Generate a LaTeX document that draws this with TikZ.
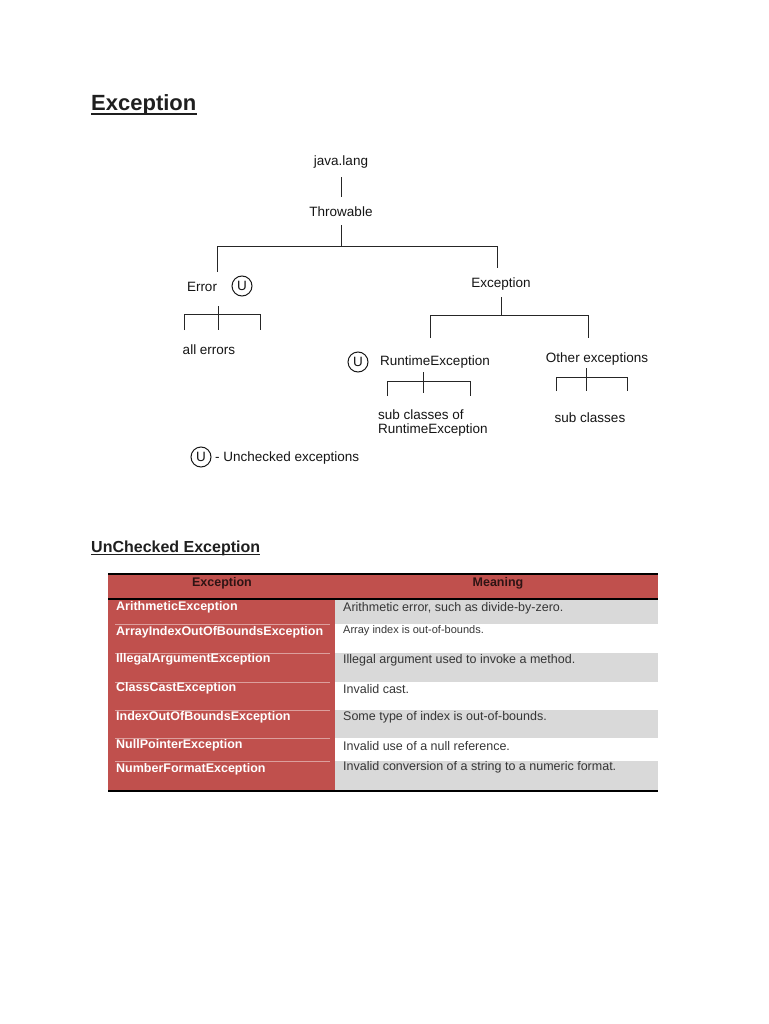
\documentclass[tikz,border=0pt]{standalone}
\usepackage{fontspec}
\setmainfont{Liberation Sans}
\usepackage{xcolor}
\usepackage{tikz}
\usetikzlibrary{positioning}
\definecolor{hdred}{HTML}{C0504D}
\definecolor{rowgray}{HTML}{D9D9D9}
\definecolor{txtgray}{HTML}{363636}
\definecolor{hdtext}{HTML}{2E1414}
\tikzset{
  tree/.style={inner sep=0pt,text=black!92,font=\fontsize{13.5}{14}\selectfont},
  ucirc/.style={circle,draw=black!90,line width=1pt,minimum size=20pt,inner sep=0pt,
    text=black!92,font=\fontsize{13.5}{14}\selectfont},
  link/.style={line width=1pt,black!85},
  heading/.style={anchor=base west,inner sep=0pt,text=black!88},
  hdtxt/.style={inner sep=0pt,text=hdtext,font=\fontsize{12.5}{14}\bfseries\selectfont},
  exname/.style={anchor=west,inner sep=0pt,text=white,font=\fontsize{12.5}{14}\bfseries\selectfont},
  meaning/.style={anchor=west,inner sep=0pt,text=txtgray,font=\fontsize{12.5}{14}\selectfont}
}

\begin{document}
\begin{tikzpicture}[x=1pt,y=-1pt]
  \useasboundingbox (0,0) rectangle (768,1024);
  % titres
  \node[heading,font=\fontsize{22}{26}\bfseries\selectfont] (title) at (91,111) {Exception};
  \draw[line width=2pt,black!88] ([yshift=-3pt]title.base west) -- ([yshift=-3pt]title.base east);
  \node[heading,font=\fontsize{16}{19}\bfseries\selectfont] (title2) at (91,552) {UnChecked Exception};
  \draw[line width=1.5pt,black!88] ([yshift=-2.5pt]title2.base west) -- ([yshift=-2.5pt]title2.base east);

  % arbre
  \node[tree,anchor=base] (jl) at (341,166) {java.lang};
  \node[tree,anchor=base] (thr) at (341,217) {Throwable};
  \node[tree,anchor=base] (err) at (202,291) {Error};
  \node[ucirc] (uerr) at (242,286) {U};
  \node[tree,anchor=base] (exc) at (501,287) {Exception};
  \node[tree,anchor=base] (allerr) at (209,354) {all errors};
  \node[ucirc] (urte) at (358,362) {U};
  \node[tree,anchor=base] (rte) at (435,365) {RuntimeException};
  \node[tree,anchor=base] (oth) at (597,362) {Other exceptions};
  \node[tree,anchor=west,align=left] (subrte) at (378,423.5) {sub classes of\\RuntimeException};
  \node[tree,anchor=base] (subcls) at (590,422) {sub classes};
  \node[ucirc] (uleg) at (201,457) {U};
  \node[tree,anchor=base west] (legend) at (215,461) {- Unchecked exceptions};

  \draw[link,shorten <=8pt,shorten >=10pt] (jl.south) -- (thr.north);
  \coordinate (barL) at (217,246);
  \coordinate (barR) at (497,246);
  \draw[link,shorten <=8pt] (thr.south) -- (thr.south |- barL);
  \draw[link] (barL) -- (barR);
  \draw[link] (barL) -- ++(0,26);
  \draw[link] (barR) -- ++(0,22);
  \foreach \xl/\xm/\xr/\yb/\yt/\ys/\ye in {184/218/260/314/306/330/330,
      430/501/588/315/297/315/338, 387/423/470/381/372/393/396, 556/586/627/377/368/391/391}{
    \draw[link] (\xl,\ye) |- (\xr,\yb) -- (\xr,\ye);
    \draw[link] (\xm,\yt) -- (\xm,\ys);}

  % tableau
  \fill[hdred] (108,575) rectangle (658,598);
  \fill[hdred] (108,599) rectangle (335,790);
  \foreach \ya/\yb in {600/624,653/682,710/738,761/790}
    \fill[rowgray] (335,\ya) rectangle (658,\yb);
  \foreach \ys in {624,653,682,710,738,761}
    \draw[hdred!55!white,line width=0.6pt] (115,\ys) -- (330,\ys);
  \draw[line width=2.5pt] (108,574) -- (658,574);
  \draw[line width=2pt] (108,598.5) -- (658,598.5);
  \draw[line width=2.5pt] (108,791) -- (658,791);
  \node[hdtxt] (hex) at (222,583) {Exception};
  \node[hdtxt] (hmn) at (498,583) {Meaning};
  \foreach \ya/\yb/\ex/\mn [count=\i] in {
      607/608/ArithmeticException/{Arithmetic error, such as divide-by-zero.},
      632/631/ArrayIndexOutOfBoundsException/{\fontsize{11}{12}\selectfont Array index is out-of-bounds.},
      659/660/IllegalArgumentException/{Illegal argument used to invoke a method.},
      688/689/ClassCastException/{Invalid cast.},
      717/717/IndexOutOfBoundsException/{Some type of index is out-of-bounds.},
      745/746/NullPointerException/{Invalid use of a null reference.},
      769/767/NumberFormatException/{Invalid conversion of a string to a numeric format.}}{
    \node[exname] (ex\i) at (116,\ya) {\ex};
    \node[meaning] (mn\i) at (343,\yb) {\mn};}
\end{tikzpicture}
\end{document}
